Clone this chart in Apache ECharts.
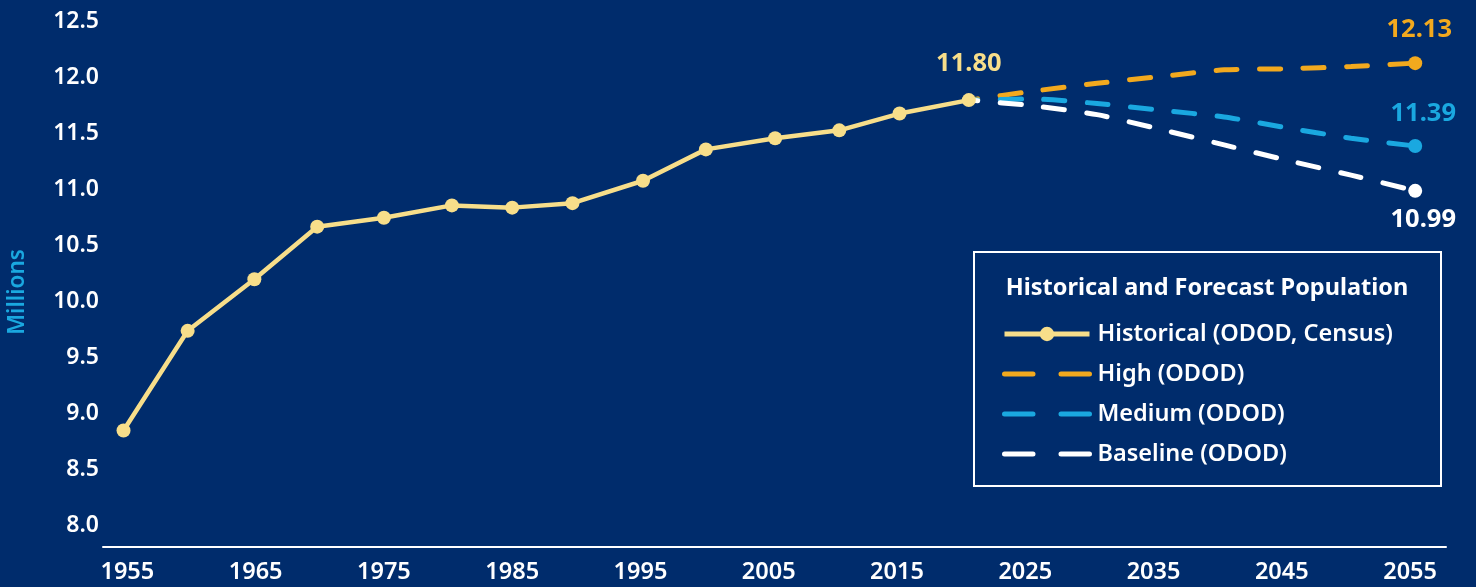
<!DOCTYPE html>
<html>
<head>
<meta charset="utf-8">
<script src="https://cdn.jsdelivr.net/npm/echarts@6/dist/echarts.min.js"></script>
<style>
  html, body { margin: 0; padding: 0; background: #002c6c; }
  #chart { width: 1476px; height: 587px; }
</style>
</head>
<body>
<div id="chart"></div>
<script>
// ---- data ----
const histYears = [1954.7, 1959.7, 1964.9, 1969.8, 1975.0, 1980.3, 1985.0, 1989.7, 1995.2, 2000.1, 2005.5, 2010.5, 2015.2, 2020.6];
const historical = [8.85, 9.74, 10.20, 10.67, 10.75, 10.86, 10.84, 10.88, 11.08, 11.36, 11.46, 11.53, 11.68, 11.80];
const forecastYears = [2020.6, 2025.6, 2030.6, 2035.5, 2040.5, 2045.5, 2050.4, 2055.4];
const high = [11.80, 11.88, 11.95, 12.01, 12.07, 12.08, 12.10, 12.13];
const medium = [11.80, 11.81, 11.77, 11.71, 11.65, 11.55, 11.46, 11.39];
const baseline = [11.80, 11.75, 11.67, 11.54, 11.40, 11.26, 11.13, 10.99];
const xTickLabels = [1955, 1965, 1975, 1985, 1995, 2005, 2015, 2025, 2035, 2045, 2055];
const yTickLabels = [8.0, 8.5, 9.0, 9.5, 10.0, 10.5, 11.0, 11.5, 12.0, 12.5];
const seriesNames = ['Historical (ODOD, Census)', 'High (ODOD)', 'Medium (ODOD)', 'Baseline (ODOD)'];
const legendTitle = 'Historical and Forecast Population';
const yAxisTitle = 'Millions';

const C_HIST = '#f7de8a';
const C_HIGH = '#f2a91e';
const C_MED = '#1aa8e0';
const C_BASE = '#ffffff';
const FONT = '"Noto Sans", "Open Sans", sans-serif';

function pairs(xs, ys) { return xs.map((x, i) => [x, ys[i]]); }

function forecastData(ys, color, labelPos, dist, offset) {
  const d = pairs(forecastYears, ys).map(p => ({ value: p, symbol: 'none' }));
  const last = d[d.length - 1];
  last.symbol = 'circle';
  last.symbolSize = 14;
  last.label = {
    show: true, position: labelPos, distance: dist, offset: offset,
    color: color, fontFamily: FONT, fontWeight: 700, fontSize: 25.5, lineHeight: 26,
    formatter: p => p.value[1].toFixed(2)
  };
  return d;
}

const histData = pairs(histYears, historical).map(p => ({ value: p }));
histData[histData.length - 1].label = {
  show: true, position: 'top', distance: 16.5, offset: [0, 0],
  color: C_HIST, fontFamily: FONT, fontWeight: 700, fontSize: 25.5, lineHeight: 26,
  formatter: p => p.value[1].toFixed(2)
};

const dash = [21, 22.5];
const legendDash = { type: [28.5, 28], dashOffset: 0, width: 5, cap: 'round' };

const chart = echarts.init(document.getElementById('chart'), null, { renderer: 'canvas' });
chart.setOption({
  animation: false,
  backgroundColor: '#002c6c',
  grid: { left: 103, right: 30, top: 21.7, bottom: 40, containLabel: false },
  xAxis: {
    type: 'value', min: 1953.1, max: 2057.8,
    axisLine: { show: true, lineStyle: { color: '#ffffff', width: 2 } },
    axisTick: { show: false },
    splitLine: { show: false },
    axisLabel: {
      customValues: xTickLabels,
      color: '#ffffff', fontFamily: FONT, fontWeight: 600, fontSize: 23.5, margin: 13,
      formatter: v => String(Math.round(v))
    }
  },
  yAxis: {
    type: 'value', min: 7.81, max: 12.5,
    axisLine: { show: false },
    axisTick: { show: false },
    splitLine: { show: false },
    axisLabel: {
      customValues: yTickLabels,
      color: '#ffffff', fontFamily: FONT, fontWeight: 600, fontSize: 23, margin: 4,
      formatter: v => v.toFixed(1)
    }
  },
  legend: {
    orient: 'vertical', left: 1002, top: 322, padding: 0,
    itemWidth: 85, itemHeight: 18, itemGap: 16,
    selectedMode: false,
    textStyle: { color: '#ffffff', fontFamily: FONT, fontWeight: 600, fontSize: 23.5, lineHeight: 18, padding: [0, 0, 0, 3] },
    lineStyle: { width: 5, cap: 'round', dashOffset: 0 },
    data: [
      { name: seriesNames[0], lineStyle: { type: 'solid', width: 5, cap: 'butt' } },
      { name: seriesNames[1], itemStyle: { opacity: 0 }, lineStyle: legendDash },
      { name: seriesNames[2], itemStyle: { opacity: 0 }, lineStyle: legendDash },
      { name: seriesNames[3], itemStyle: { opacity: 0 }, lineStyle: legendDash }
    ]
  },
  graphic: [
    { type: 'rect', shape: { x: 974, y: 252, width: 467, height: 234 },
      style: { fill: 'none', stroke: '#ffffff', lineWidth: 2 }, z: 10 },
    { type: 'text', x: 1207, y: 288,
      style: { text: legendTitle, fill: '#ffffff', font: '700 23.5px ' + FONT, align: 'center', verticalAlign: 'middle' }, z: 10 },
    { type: 'text', x: 18, y: 292, rotation: Math.PI / 2,
      style: { text: yAxisTitle, fill: C_MED, font: '600 22.5px ' + FONT, align: 'center', verticalAlign: 'middle' }, z: 10 }
  ],
  series: [
    {
      name: seriesNames[1], type: 'line', smooth: 0.2, symbol: 'circle', symbolSize: 14, showSymbol: true,
      color: C_HIGH, itemStyle: { color: C_HIGH },
      lineStyle: { color: C_HIGH, width: 5, type: dash, dashOffset: 12, cap: 'round' },
      data: forecastData(high, C_HIGH, 'top', 13.5, [4, 0]), z: 2
    },
    {
      name: seriesNames[2], type: 'line', smooth: 0.2, symbol: 'circle', symbolSize: 14, showSymbol: true,
      color: C_MED, itemStyle: { color: C_MED },
      lineStyle: { color: C_MED, width: 5, type: dash, dashOffset: 12, cap: 'round' },
      data: forecastData(medium, C_MED, 'top', 12.5, [8, 0]), z: 3
    },
    {
      name: seriesNames[3], type: 'line', smooth: 0.2, symbol: 'circle', symbolSize: 14, showSymbol: true,
      color: C_BASE, itemStyle: { color: C_BASE },
      lineStyle: { color: C_BASE, width: 5, type: dash, dashOffset: 12, cap: 'round' },
      data: forecastData(baseline, C_BASE, 'bottom', 9, [8, 0]), z: 4
    },
    {
      name: seriesNames[0], type: 'line', symbol: 'circle', symbolSize: 14, showSymbol: true,
      color: C_HIST, itemStyle: { color: C_HIST },
      lineStyle: { color: C_HIST, width: 4.5 },
      data: histData, z: 5
    }
  ]
});
</script>
</body>
</html>
